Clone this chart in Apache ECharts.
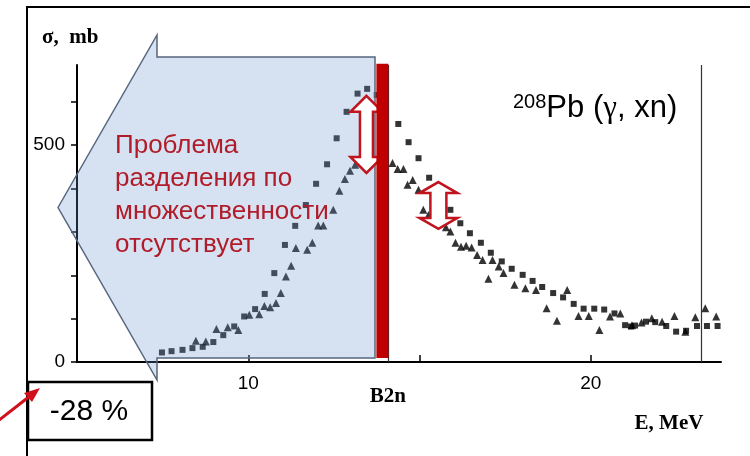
<!DOCTYPE html>
<html>
<head>
<meta charset="utf-8">
<script src="https://cdn.jsdelivr.net/npm/echarts@6/dist/echarts.min.js"></script>
<style>
html, body { margin: 0; padding: 0; background: #fff; }
#chart { width: 750px; height: 456px; }
</style>
</head>
<body>
<div id="chart"></div>
<script>
// Photoneutron cross section 208Pb(γ, xn): two data sets (squares and triangles)
const squareEnergy = [7.48, 7.76, 8.08, 8.37, 8.67, 8.98, 9.27, 9.59, 9.88, 10.20,
  10.48, 10.76, 11.07, 11.37, 11.68, 11.98, 12.30, 12.58, 12.87, 13.19,
  13.47, 13.75, 14.38, 14.68, 14.97, 15.28, 15.90, 16.19, 16.47, 16.79,
  17.08, 17.40, 17.69, 18.01, 18.30, 18.58, 18.90, 19.19, 19.50, 19.79,
  20.10, 20.39, 20.69, 21.00, 21.17, 21.29, 21.61, 21.88, 22.20, 22.49,
  22.78, 23.10, 23.39, 23.70];
const squareSigma = [22, 25, 28, 32, 35, 46, 62, 82, 105, 122,
  157, 205, 270, 314, 362, 411, 456, 516, 577, 619,
  630, 616, 549, 507, 470, 425, 351, 320, 297, 275,
  252, 232, 215, 201, 187, 173, 159, 149, 134, 123,
  123, 121, 112, 85, 82, 84, 93, 92, 83, 70,
  72, 83, 83, 83];

const triangleEnergy = [8.47, 8.76, 9.07, 9.40, 9.71, 10.03, 10.32, 10.47, 10.64, 10.81,
  10.95, 11.10, 11.25, 11.39, 11.72, 11.87, 12.04, 12.19, 12.48, 12.66,
  12.82, 12.97, 13.12, 14.21, 14.36, 14.53, 14.65, 14.80, 14.97, 15.11,
  15.26, 15.77, 15.90, 16.05, 16.21, 16.36, 16.52, 16.68, 16.84, 17.01,
  17.13, 17.31, 17.45, 17.77, 18.09, 18.40, 18.71, 19.01, 19.31, 19.64,
  19.94, 20.25, 20.56, 20.86, 21.20, 21.48, 21.78, 22.08, 22.44, 22.76,
  23.05, 23.34, 23.66];
const triangleSigma = [49, 47, 76, 80, 74, 109, 110, 129, 126, 136,
  159, 197, 222, 263, 259, 275, 315, 315, 351, 395,
  422, 441, 455, 459, 445, 445, 409, 420, 397, 351,
  339, 311, 301, 275, 266, 268, 264, 247, 235, 192,
  235, 220, 205, 178, 170, 166, 124, 95, 166, 106,
  106, 74, 105, 112, 85, 91, 101, 93, 106, 70,
  103, 124, 105];

const xTickLabels = [10, 20];
const yTickLabels = [0, 500];

// Two-neutron separation energy and the upper end of the measured range, MeV
const b2nEnergy = 14.1;
const rangeEndEnergy = 23.23;
// Red band just below B2n (MeV)
const bandRange = [13.74, 14.09];
// Double arrows: [energy, upper σ, lower σ]
const gapArrows = [[13.45, 614, 436], [15.55, 415, 307]];

const squarePoints = squareEnergy.map((e, i) => [e, squareSigma[i]]);
const trianglePoints = triangleEnergy.map((e, i) => [e, triangleSigma[i]]);

const chart = echarts.init(document.getElementById('chart'), null, { renderer: 'canvas' });

const sansFont = 'Arial, "Liberation Sans", sans-serif';
const serifFont = '"Times New Roman", "Liberation Serif", serif';

chart.setOption({
  animation: false,
  backgroundColor: '#ffffff',
  grid: { left: 77, top: 65, right: 29, bottom: 94 },
  xAxis: {
    type: 'value', min: 5, max: 23.8, interval: 5,
    axisLine: { show: true, onZero: false, lineStyle: { color: '#000', width: 2 } },
    axisTick: { show: true, inside: true, length: 7, lineStyle: { color: '#000', width: 1.5 } },
    splitLine: { show: false },
    axisLabel: {
      margin: 12, color: '#000', fontSize: 19, fontFamily: sansFont,
      showMaxLabel: false,
      formatter: v => (xTickLabels.indexOf(v) >= 0 ? String(v) : '')
    }
  },
  yAxis: {
    type: 'value', min: 0, max: 685, interval: 100,
    axisLine: { show: true, lineStyle: { color: '#000', width: 2 } },
    axisTick: { show: true, inside: false, length: 6, lineStyle: { color: '#000', width: 1.5 } },
    splitLine: { show: false },
    axisLabel: {
      margin: 12, color: '#000', fontSize: 19, fontFamily: sansFont,
      showMaxLabel: false,
      formatter: v => (yTickLabels.indexOf(v) >= 0 ? String(v) : '')
    }
  },
  series: [
    {
      type: 'scatter', name: 'squares', data: squarePoints,
      symbol: 'rect', symbolSize: 6, z: 3,
      itemStyle: { color: '#000' },
      markLine: {
        silent: true, symbol: 'none', animation: false,
        label: { show: false },
        lineStyle: { color: '#333', width: 1.2, type: 'solid' },
        data: [{ xAxis: b2nEnergy }, { xAxis: rangeEndEnergy }]
      }
    },
    {
      type: 'scatter', name: 'triangles', data: trianglePoints,
      symbol: 'triangle', symbolSize: 8, z: 3,
      itemStyle: { color: '#000' }
    }
  ]
});

// Overlay annotations placed with the chart's own coordinate conversion
const toPx = p => chart.convertToPixel({ xAxisIndex: 0, yAxisIndex: 0 }, p);

function doubleArrow(cx, y1, y2, hw, sw, hl) {
  return [
    [cx, y1], [cx + hw, y1 + hl], [cx + sw, y1 + hl], [cx + sw, y2 - hl],
    [cx + hw, y2 - hl], [cx, y2], [cx - hw, y2 - hl], [cx - sw, y2 - hl],
    [cx - sw, y1 + hl], [cx - hw, y1 + hl]
  ];
}

const bandTop = toPx([bandRange[0], 688]);
const bandBottom = toPx([bandRange[1], 9]);
const b2nPx = toPx([b2nEnergy, 0]);

const arrowShapes = gapArrows.map((a, i) => {
  const top = toPx([a[0], a[1]]);
  const bot = toPx([a[0], a[2]]);
  const dims = i === 0 ? [16, 6.5, 16] : [19, 8, 11];
  return {
    type: 'polygon', z: 60,
    shape: { points: doubleArrow(top[0], top[1], bot[1], dims[0], dims[1], dims[2]) },
    style: { fill: '#ffffff', stroke: '#c0141e', lineWidth: 2.5, lineJoin: 'miter' }
  };
});

chart.setOption({
  graphic: [
    // outer frame lines
    { type: 'line', z: 100, shape: { x1: 26, y1: 7, x2: 750, y2: 7 }, style: { stroke: '#000', lineWidth: 2 } },
    { type: 'line', z: 100, shape: { x1: 27, y1: 6, x2: 27, y2: 456 }, style: { stroke: '#000', lineWidth: 2 } },
    // translucent left-pointing block arrow
    {
      type: 'polygon', z: 50,
      shape: { points: [[58, 207.5], [157, 35], [157, 57], [375, 57], [375, 358], [157, 358], [157, 380]] },
      style: { fill: 'rgba(104,148,203,0.27)', stroke: '#56667f', lineWidth: 1.5 }
    },
    {
      type: 'text', z: 55, x: 115, y: 129,
      style: {
        text: 'Проблема\nразделения по\nмножественности\nотсутствует',
        fill: '#b01c2a', font: '26px ' + sansFont, lineHeight: 33,
        align: 'left', verticalAlign: 'top', textAlign: 'left', textVerticalAlign: 'top'
      }
    },
    ...arrowShapes,
    // red band below B2n
    {
      type: 'rect', z: 70,
      shape: { x: bandTop[0], y: bandTop[1], width: bandBottom[0] - bandTop[0], height: bandBottom[1] - bandTop[1] },
      style: { fill: '#c00000' }
    },
    // axis titles and B2n label
    {
      type: 'text', z: 100, x: 42, y: 38,
      style: { text: 'σ,  mb', fill: '#000', font: 'bold 21px ' + serifFont,
        align: 'left', verticalAlign: 'middle', textAlign: 'left', textVerticalAlign: 'middle' }
    },
    {
      type: 'text', z: 100, x: 669, y: 424,
      style: { text: 'E, MeV', fill: '#000', font: 'bold 21px ' + serifFont,
        align: 'center', verticalAlign: 'middle', textAlign: 'center', textVerticalAlign: 'middle' }
    },
    {
      type: 'text', z: 100, x: b2nPx[0] - 1, y: 397,
      style: { text: 'B2n', fill: '#000', font: 'bold 21px ' + serifFont,
        align: 'center', verticalAlign: 'middle', textAlign: 'center', textVerticalAlign: 'middle' }
    },
    // reaction label
    {
      type: 'text', z: 100, x: 513, y: 92,
      style: {
        text: '{s|208}{m|Pb (}{g|γ}{m|, xn)}',
        align: 'left', verticalAlign: 'top', textAlign: 'left', textVerticalAlign: 'top',
        rich: {
          s: { fontSize: 20, fontFamily: sansFont, fill: '#000', verticalAlign: 'top', padding: [0, 0, 13, 0] },
          m: { fontSize: 31, fontFamily: sansFont, fill: '#000' },
          g: { fontSize: 31, fontFamily: serifFont, fill: '#000' }
        }
      }
    },
    // -28 % box
    {
      type: 'rect', z: 100,
      shape: { x: 28, y: 382, width: 124, height: 58 },
      style: { fill: '#fff', stroke: '#000', lineWidth: 2.5 }
    },
    {
      type: 'text', z: 101, x: 89, y: 412,
      style: { text: '-28 %', fill: '#000', font: '30px ' + sansFont,
        align: 'center', verticalAlign: 'middle', textAlign: 'center', textVerticalAlign: 'middle' }
    },
    // small red pointer arrow
    { type: 'line', z: 102, shape: { x1: -2, y1: 421, x2: 30, y2: 396 }, style: { stroke: '#d0101a', lineWidth: 3 } },
    {
      type: 'polygon', z: 102,
      shape: { points: [[40, 388], [24, 393], [32, 402]] },
      style: { fill: '#d0101a' }
    }
  ]
});
</script>
</body>
</html>
